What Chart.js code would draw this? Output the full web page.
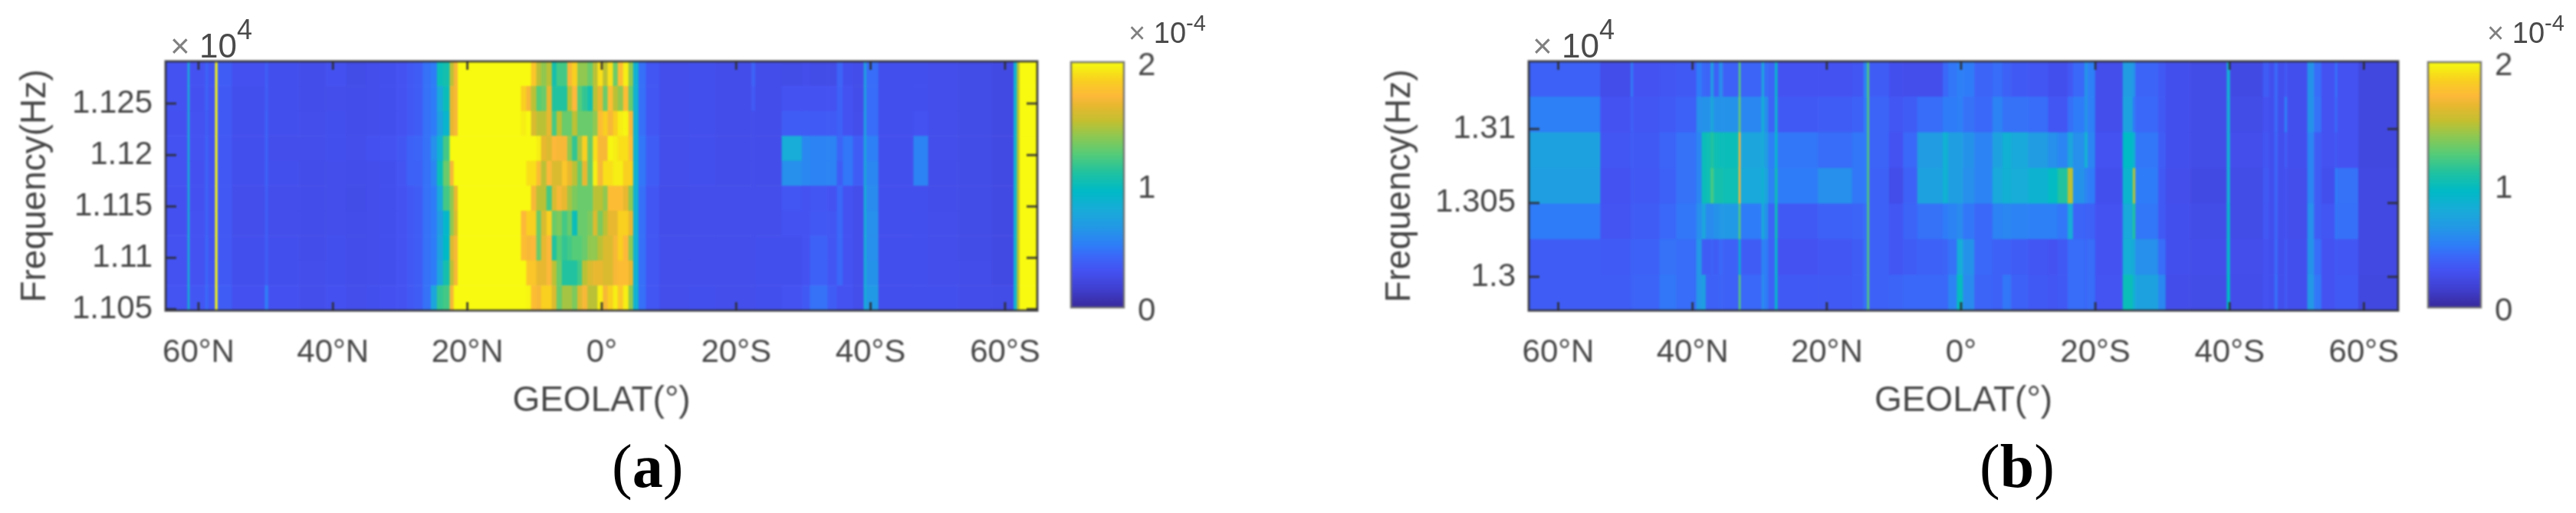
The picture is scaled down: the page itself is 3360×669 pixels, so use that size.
<!DOCTYPE html>
<html>
<head>
<meta charset="utf-8">
<title>GEOLAT spectra</title>
<script src="https://cdn.jsdelivr.net/npm/chart.js@4"></script>
<style>
  html, body { margin: 0; background: #fff; }
  body { position: relative; width: 3360px; height: 669px; overflow: hidden; font-family: "Liberation Sans", Arial, sans-serif; }
  canvas { position: absolute; top: 0; filter: blur(1px); }
  .exp { position: absolute; color: #4a4a4a; white-space: nowrap; filter: blur(0.6px); }
  .exp i { font-style: normal; color: #808080; }
  .exp sup { position: relative; vertical-align: baseline; }
  .cap { position: absolute; top: 563px; font: 80px/90px "Liberation Serif", serif; color: #000; white-space: nowrap; }
</style>
</head>
<body>
<canvas id="heatA" width="1400" height="560" style="left:0"></canvas>
<canvas id="barA" width="220" height="460" style="left:1380px"></canvas>
<canvas id="heatB" width="1400" height="560" style="left:1780px"></canvas>
<canvas id="barB" width="220" height="460" style="left:3150px"></canvas>

<div class="exp" style="left:222px;top:35px;font-size:44px"><i>×</i> 10<sup style="top:-24px;font-size:36px">4</sup></div>
<div class="exp" style="left:1472px;top:22px;font-size:38px"><i>×</i> 10<sup style="top:-16px;font-size:29px">-4</sup></div>
<div class="exp" style="left:1999px;top:35px;font-size:44px"><i>×</i> 10<sup style="top:-24px;font-size:36px">4</sup></div>
<div class="exp" style="left:3244px;top:22px;font-size:38px"><i>×</i> 10<sup style="top:-16px;font-size:29px">-4</sup></div>
<div class="cap" style="left:798px">(<b>a</b>)</div>
<div class="cap" style="left:2582px">(<b>b</b>)</div>

<script>
// values are in units of 1e-6, the colour bar runs 0-200 (shown as 0-2 x 10^-4)
const latTicks = [60, 40, 20, 0, -20, -40, -60];
const latLabels = ["60°N", "40°N", "20°N", "0°", "20°S", "40°S", "60°S"];

const colorbarTicks = [0, 100, 200];
const colorbarLabels = ["0", "1", "2"];
const cmapStops = [0, 15, 30, 42, 50, 65, 80, 95, 110, 125, 140, 152, 165, 172, 185, 195, 200];
const cmapColors = ["#38299a", "#3f3fd0", "#4452f2", "#3a68f8", "#2f7cf8", "#2398e6", "#18acd8", "#00bac6",
  "#20c2a0", "#55cc78", "#90c850", "#c4bf30", "#e8b830", "#fdb83a", "#f9cf20", "#f6ee14", "#f8fa10"];

// panel (a)
const freqTicksA = [1.105, 1.11, 1.115, 1.12, 1.125];
const freqLabelsA = ["1.105", "1.11", "1.115", "1.12", "1.125"];
const freqRowsA = [1.1279, 1.12548, 1.12305, 1.12063, 1.1182, 1.11578, 1.11335, 1.11093, 1.10851, 1.10608];

const latEdgesLeftA = [64.9, 61.6, 61.3, 59, 58.5, 57.5, 57.15, 55, 50.1, 49.6, 45, 41, 38, 35, 33, 30.5, 29, 27.9,
  26.6, 25.4, 24.5, 23.6, 22.6, 22, 21.4];
const columnsLeftA = [
  [30, 30, 29, 30, 30, 29, 29, 30, 30, 31],
  [80, 80, 80, 82, 82, 82, 82, 82, 82, 84],
  [30, 29, 30, 30, 29, 29, 30, 30, 30, 32],
  [38, 38, 36, 38, 38, 38, 38, 40, 40, 42],
  [31, 30, 30, 30, 30, 30, 30, 30, 31, 32],
  [200, 200, 200, 200, 200, 200, 200, 200, 200, 200],
  [36, 34, 34, 33, 33, 33, 33, 33, 34, 36],
  [29, 28, 28, 28, 28, 27, 27, 28, 28, 29],
  [36, 36, 38, 38, 38, 36, 36, 36, 36, 50],
  [28, 28, 28, 27, 28, 27, 27, 28, 28, 29],
  [26, 26, 27, 27, 26, 26, 26, 26, 27, 27],
  [29, 27, 28, 28, 27, 27, 27, 28, 28, 29],
  [25, 26, 26, 27, 26, 25, 26, 26, 26, 27],
  [27, 27, 27, 29, 27, 27, 27, 27, 27, 28],
  [28, 28, 28, 30, 28, 28, 28, 28, 28, 29],
  [30, 30, 30, 32, 31, 30, 30, 30, 30, 30],
  [33, 33, 33, 38, 38, 33, 33, 33, 33, 33],
  [36, 36, 36, 40, 38, 36, 36, 36, 36, 36],
  [46, 46, 46, 46, 46, 46, 46, 46, 46, 46],
  [50, 50, 50, 60, 55, 50, 50, 50, 50, 75],
  [100, 78, 72, 85, 100, 78, 68, 72, 75, 115],
  [105, 100, 90, 120, 130, 120, 92, 95, 105, 120],
  [150, 165, 165, 200, 170, 140, 140, 160, 150, 170],
  [170, 170, 170, 200, 200, 165, 160, 170, 170, 200],
  [200, 200, 200, 200, 200, 200, 200, 200, 200, 200],
];

const latEdgesMottleA = [12, 11.2, 10.5, 9.7, 9, 8.2, 7.4, 6.7, 5.9, 5.1, 4.4, 3.6, 2.9, 2.1, 1.3, 0.6, -0.2, -0.9,
  -1.7, -2.4, -3.2, -4];
const mottleRowsA = [
  [200, 200, 180, 150, 140, 150, 105, 120, 120, 170, 185, 140, 140, 130, 150, 190, 150, 190, 130, 175, 195, 140],
  [185, 170, 150, 125, 130, 165, 110, 110, 110, 150, 172, 125, 115, 105, 150, 165, 130, 175, 150, 140, 175, 130],
  [195, 200, 160, 150, 150, 165, 120, 150, 130, 130, 150, 130, 130, 130, 140, 175, 185, 170, 185, 195, 198, 170],
  [200, 200, 200, 195, 165, 160, 172, 170, 170, 140, 115, 145, 185, 130, 190, 170, 170, 198, 195, 190, 190, 175],
  [200, 190, 190, 175, 150, 172, 160, 160, 180, 165, 150, 130, 165, 130, 195, 170, 190, 190, 195, 195, 185, 185],
  [200, 200, 170, 150, 150, 120, 160, 170, 165, 145, 135, 130, 130, 130, 150, 150, 140, 175, 175, 175, 165, 140],
  [172, 185, 185, 130, 160, 185, 130, 135, 120, 130, 100, 130, 130, 135, 160, 135, 150, 165, 165, 185, 185, 165],
  [175, 170, 172, 130, 165, 172, 110, 125, 115, 120, 125, 125, 130, 140, 140, 150, 160, 160, 170, 185, 172, 140],
  [200, 180, 180, 165, 165, 172, 150, 130, 110, 110, 110, 120, 150, 160, 165, 165, 160, 160, 170, 175, 175, 165],
  [200, 198, 175, 170, 185, 185, 160, 130, 145, 145, 135, 160, 170, 150, 150, 195, 170, 185, 195, 180, 195, 140],
];

const latEdgesRightA = [-4.7, -5.5, -6.6, -8.6, -13, -17, -22.3, -22.9, -26.8, -29.8, -31, -33.6, -35, -35.9, -37.4,
  -39, -39.4, -41.2, -46.4, -48.6, -53, -58, -61.3, -61.8, -62.2, -64.8];
const columnsRightA = [
  [85, 85, 85, 85, 85, 85, 85, 85, 85, 85],
  [45, 45, 45, 48, 48, 45, 45, 45, 45, 45],
  [32, 32, 32, 36, 36, 32, 32, 32, 32, 32],
  [27, 27, 27, 27, 27, 26, 26, 27, 27, 27],
  [28, 28, 28, 28, 28, 27, 27, 27, 27, 28],
  [26, 26, 26, 26, 26, 27, 27, 27, 27, 27],
  [38, 34, 27, 27, 27, 27, 27, 27, 27, 27],
  [26, 26, 26, 26, 26, 27, 27, 28, 28, 28],
  [25, 30, 36, 80, 60, 32, 30, 28, 28, 30],
  [27, 30, 36, 56, 56, 30, 30, 30, 30, 34],
  [25, 30, 35, 54, 54, 32, 33, 38, 38, 46],
  [25, 30, 35, 54, 54, 30, 32, 32, 32, 36],
  [40, 38, 38, 40, 36, 42, 42, 42, 42, 30],
  [28, 30, 30, 48, 48, 30, 30, 30, 30, 30],
  [26, 26, 27, 36, 36, 27, 27, 27, 27, 27],
  [68, 68, 68, 72, 72, 78, 78, 78, 78, 78],
  [44, 44, 44, 52, 56, 58, 60, 60, 62, 66],
  [28, 28, 28, 28, 28, 28, 28, 28, 28, 28],
  [28, 28, 30, 54, 54, 28, 28, 28, 28, 28],
  [27, 27, 27, 27, 26, 26, 27, 27, 27, 28],
  [25, 25, 25, 25, 25, 25, 25, 25, 26, 26],
  [24, 24, 24, 24, 24, 24, 24, 24, 24, 25],
  [85, 85, 85, 85, 85, 85, 85, 85, 85, 85],
  [150, 150, 150, 150, 150, 150, 150, 150, 150, 150],
  [200, 200, 200, 200, 200, 200, 200, 200, 200, 200],
];

// panel (b)
const freqTicksB = [1.3, 1.305, 1.31];
const freqLabelsB = ["1.3", "1.305", "1.31"];
const freqRowsB = [1.31338, 1.31097, 1.30856, 1.30615, 1.30374, 1.30133, 1.29892];

const latEdgesB = [64.4, 53.7, 49.2, 48.8, 44.9, 42.4, 39.4, 38.6, 38, 37.3, 36.8, 36.05, 35.45, 33.1, 32.8, 29.7,
  29.3, 28.7, 27.7, 27.3, 21.3, 16.2, 14.5, 13.95, 13.65, 10.7, 8.6, 6.5, 2.7, 1.9, 0.6, -0.3, -2, -4.7, -6.2, -7.5,
  -10, -13, -14.4, -15.9, -16.7, -18.4, -18.9, -20, -24.1, -25.6, -26, -29.4, -30.5, -34.1, -39.6, -40.1, -45,
  -45.9, -46.7, -47.2, -48.2, -48.6, -51.6, -52.6, -53.7, -55.7, -56.1, -59.2, -65.1];
const columnsB = [
  [38, 52, 72, 70, 50, 36, 36],
  [26, 30, 32, 30, 31, 35, 36],
  [48, 38, 36, 35, 35, 38, 38],
  [30, 32, 34, 33, 36, 38, 40],
  [32, 35, 40, 38, 42, 46, 48],
  [34, 38, 46, 46, 48, 44, 44],
  [50, 60, 55, 55, 60, 65, 65],
  [42, 62, 100, 100, 75, 36, 70],
  [40, 62, 102, 102, 58, 36, 38],
  [65, 75, 110, 120, 58, 38, 38],
  [38, 62, 102, 105, 62, 36, 38],
  [58, 62, 100, 105, 65, 42, 40],
  [38, 62, 100, 102, 66, 38, 38],
  [125, 130, 172, 172, 125, 90, 125],
  [40, 56, 75, 78, 50, 36, 42],
  [72, 82, 80, 85, 78, 55, 58],
  [44, 60, 68, 74, 62, 50, 50],
  [40, 40, 52, 54, 40, 38, 38],
  [88, 85, 90, 100, 100, 90, 90],
  [30, 34, 48, 50, 34, 30, 34],
  [30, 36, 44, 60, 38, 32, 34],
  [32, 38, 48, 48, 40, 36, 36],
  [55, 50, 50, 50, 45, 45, 45],
  [125, 125, 125, 125, 125, 125, 125],
  [36, 40, 40, 38, 38, 38, 38],
  [28, 32, 30, 26, 32, 32, 40],
  [27, 36, 42, 38, 40, 36, 42],
  [27, 44, 68, 72, 46, 38, 42],
  [42, 50, 85, 85, 50, 40, 42],
  [48, 50, 70, 70, 54, 46, 54],
  [52, 52, 70, 70, 58, 82, 98],
  [50, 46, 62, 60, 48, 62, 58],
  [40, 42, 54, 54, 42, 42, 40],
  [44, 54, 72, 78, 54, 38, 38],
  [38, 46, 85, 84, 56, 38, 48],
  [34, 46, 78, 80, 54, 36, 38],
  [32, 44, 68, 86, 52, 32, 34],
  [28, 32, 60, 96, 52, 30, 32],
  [28, 32, 55, 110, 48, 34, 34],
  [33, 45, 75, 150, 80, 44, 44],
  [42, 50, 60, 62, 40, 44, 44],
  [62, 62, 82, 55, 38, 42, 42],
  [52, 52, 55, 50, 38, 44, 44],
  [27, 27, 30, 28, 30, 30, 31],
  [68, 72, 95, 88, 78, 82, 100],
  [62, 50, 85, 145, 110, 78, 85],
  [40, 42, 48, 50, 48, 60, 72],
  [34, 34, 36, 34, 34, 44, 56],
  [28, 28, 28, 27, 28, 28, 26],
  [25, 25, 25, 24, 25, 26, 25],
  [82, 80, 82, 82, 88, 90, 95],
  [24, 25, 27, 25, 25, 27, 26],
  [36, 30, 32, 34, 33, 30, 30],
  [28, 28, 28, 28, 28, 28, 28],
  [42, 42, 40, 40, 40, 42, 44],
  [28, 28, 28, 28, 28, 28, 28],
  [34, 50, 36, 30, 30, 34, 34],
  [28, 28, 28, 27, 27, 28, 28],
  [62, 62, 55, 55, 60, 62, 65],
  [44, 46, 36, 36, 36, 44, 48],
  [30, 30, 30, 28, 32, 30, 30],
  [44, 42, 34, 50, 48, 34, 34],
  [30, 30, 30, 46, 45, 32, 34],
  [22, 22, 22, 23, 23, 23, 22],
];

const textColor = "#474747";
const lineColor = "rgba(45,45,50,0.85)";

function hexToRgb(hex) {
  return [1, 3, 5].map((i) => parseInt(hex.slice(i, i + 2), 16));
}

function valueColor(v) {
  let i = 0;
  while (i < cmapStops.length - 2 && v > cmapStops[i + 1]) i++;
  const t = Math.min(1, Math.max(0, (v - cmapStops[i]) / (cmapStops[i + 1] - cmapStops[i])));
  const a = hexToRgb(cmapColors[i]);
  const b = hexToRgb(cmapColors[i + 1]);
  return `rgb(${a.map((c, k) => Math.round(c + (b[k] - c) * t)).join(",")})`;
}

function transpose(rows) {
  return rows[0].map((_, i) => rows.map((r) => r[i]));
}

// inward ticks and the axes box, Chart.js only does outward ones
const frameBox = {
  id: "frameBox",
  afterDatasetsDraw(chart, args, opts) {
    const { ctx, chartArea: area, scales } = chart;
    ctx.save();
    ctx.strokeStyle = opts.color || lineColor;
    ctx.lineWidth = opts.boxWidth || 3;
    ctx.strokeRect(area.left, area.top, area.width, area.height);
    ctx.lineWidth = 3;
    ctx.beginPath();
    if (scales.x && scales.x.options.display !== false) {
      scales.x.ticks.forEach((t) => {
        const x = scales.x.getPixelForValue(t.value);
        ctx.moveTo(x, area.bottom);
        ctx.lineTo(x, area.bottom - 11);
        ctx.moveTo(x, area.top);
        ctx.lineTo(x, area.top + 11);
      });
    }
    scales.y.ticks.forEach((t) => {
      const y = scales.y.getPixelForValue(t.value);
      ctx.moveTo(area.left, y);
      ctx.lineTo(area.left + (opts.yTick || 0), y);
      ctx.moveTo(area.right, y);
      ctx.lineTo(area.right - (opts.yTick || 0), y);
    });
    ctx.stroke();
    ctx.restore();
  },
};

function heatmap(id, edges, columns, freqRows, freqTicks, freqLabels, latMin, latMax, freqMin, freqMax, yWidth, rightPad) {
  const points = [];
  const colors = [];
  columns.forEach((col, c) => {
    col.forEach((v, r) => {
      points.push({ x: [edges[c], edges[c + 1]], y: freqRows[r] });
      colors.push(valueColor(v));
    });
  });

  return new Chart(document.getElementById(id), {
    type: "bar",
    data: {
      datasets: [{ data: points, backgroundColor: colors, borderWidth: 0, barPercentage: 1, categoryPercentage: 1 }],
    },
    plugins: [frameBox],
    options: {
      indexAxis: "y",
      responsive: false,
      animation: false,
      events: [],
      layout: { padding: { top: 80, right: rightPad, left: 0, bottom: 0 } },
      plugins: { legend: { display: false }, tooltip: { enabled: false }, title: { display: false }, frameBox: { yTick: 14 } },
      scales: {
        x: {
          type: "linear",
          reverse: true,
          min: latMax,
          max: latMin,
          grid: { display: false, drawTicks: false },
          border: { display: false },
          afterBuildTicks: (s) => { s.ticks = latTicks.map((v) => ({ value: v })); },
          afterFit: (s) => { s.height = 155; },
          ticks: {
            autoSkip: false,
            maxRotation: 0,
            padding: 30,
            color: textColor,
            font: { family: "Liberation Sans", size: 42 },
            callback: (v) => latLabels[latTicks.indexOf(v)],
          },
          title: {
            display: true,
            text: "GEOLAT(°)",
            color: textColor,
            font: { family: "Liberation Sans", size: 46 },
            padding: { top: 0, bottom: 9 },
          },
        },
        y: {
          type: "linear",
          offset: false,
          min: freqMin,
          max: freqMax,
          grid: { display: false, drawTicks: false, offset: false },
          border: { display: false },
          afterBuildTicks: (s) => { s.ticks = freqTicks.map((v) => ({ value: v })); },
          afterFit: (s) => { s.width = yWidth; },
          ticks: {
            autoSkip: false,
            padding: 17,
            color: textColor,
            font: { family: "Liberation Sans", size: 42 },
            callback: (v) => freqLabels[freqTicks.indexOf(v)],
          },
          title: {
            display: true,
            text: "Frequency(Hz)",
            color: textColor,
            font: { family: "Liberation Sans", size: 46 },
            padding: { top: 19, bottom: 0 },
          },
        },
      },
    },
  });
}

function colorbar(id) {
  return new Chart(document.getElementById(id), {
    type: "bar",
    data: {
      labels: [""],
      datasets: [{
        data: [[0, 200]],
        barPercentage: 1,
        categoryPercentage: 1,
        borderWidth: 0,
        backgroundColor: (c) => {
          const { ctx, chartArea: area } = c.chart;
          if (!area) return cmapColors[0];
          const g = ctx.createLinearGradient(0, area.bottom, 0, area.top);
          cmapStops.forEach((s, i) => g.addColorStop(s / 200, cmapColors[i]));
          return g;
        },
      }],
    },
    plugins: [frameBox],
    options: {
      responsive: false,
      animation: false,
      events: [],
      layout: { padding: { top: 81, right: 0, left: 17, bottom: 59 } },
      plugins: { legend: { display: false }, tooltip: { enabled: false }, frameBox: { color: "rgba(110,110,110,0.9)", boxWidth: 2.5, yTick: 0 } },
      scales: {
        x: { display: false },
        y: {
          position: "right",
          min: 0,
          max: 200,
          grid: { display: false, drawTicks: false },
          border: { display: false },
          afterBuildTicks: (s) => { s.ticks = colorbarTicks.map((v) => ({ value: v })); },
          afterFit: (s) => { s.width = 134; },
          ticks: {
            autoSkip: false,
            padding: 18,
            labelOffset: 5,
            color: textColor,
            font: { family: "Liberation Sans", size: 42 },
            callback: (v) => colorbarLabels[colorbarTicks.indexOf(v)],
          },
        },
      },
    },
  });
}

const columnsA = [...columnsLeftA, ...transpose(mottleRowsA), ...columnsRightA];
const latEdgesA = [...latEdgesLeftA, ...latEdgesMottleA, ...latEdgesRightA];

heatmap("heatA", latEdgesA, columnsA, freqRowsA, freqTicksA, freqLabelsA, 64.9, -64.8, 1.10487, 1.12911, 216, 47);
colorbar("barA");
heatmap("heatB", latEdgesB, columnsB, freqRowsB, freqTicksB, freqLabelsB, 64.4, -65.1, 1.29772, 1.31458, 214, 52);
colorbar("barB");
</script>
</body>
</html>
